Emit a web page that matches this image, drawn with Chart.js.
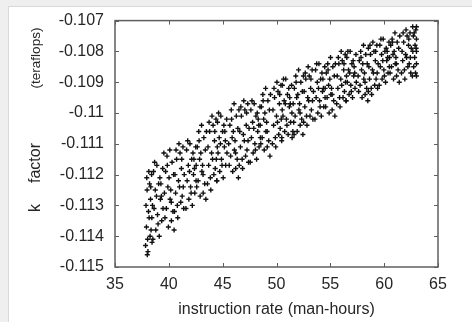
<!DOCTYPE html>
<html>
<head>
<meta charset="utf-8">
<script src="https://cdn.jsdelivr.net/npm/chart.js@4/dist/chart.umd.min.js"></script>
<style>
  html, body { margin: 0; padding: 0; }
  body { width: 472px; height: 322px; background: #efefef; position: relative; overflow: hidden; }
  #panel { position: absolute; left: 8px; top: 6px; width: 470px; height: 320px; background: #fff;
           border-left: 1px solid #d9d9d9; border-top: 1px solid #d9d9d9; }
  #wrap { position: absolute; left: 0; top: 0; width: 472px; height: 322px; }
</style>
</head>
<body>
<div id="panel"></div>
<div id="wrap"><canvas id="chart"></canvas></div>
<script>
// Axis ticks
const X_TICKS = [35, 40, 45, 50, 55, 60, 65];
const Y_TICKS = [-0.107, -0.108, -0.109, -0.11, -0.111, -0.112, -0.113, -0.114, -0.115];

// Scatter points [instruction rate, k factor]
const pointsLow = [
  [37.84,-0.1143],[38.06,-0.1145],[38.26,-0.1140],[38.44,-0.1142],[37.92,-0.1137],[38.17,-0.1134],[38.35,-0.1138],[37.88,-0.1130],
  [38.11,-0.1132],[38.30,-0.1128],[38.48,-0.1130],[37.98,-0.1125],[38.21,-0.1123],[38.40,-0.1120],[37.95,-0.1121],[38.14,-0.1119],
  [38.32,-0.1124],[38.03,-0.1141],[38.42,-0.1134],[38.00,-0.1146],
  [38.52,-0.1141],[38.79,-0.1138],[39.11,-0.1140],[39.34,-0.1135],[38.63,-0.1131],[38.95,-0.1133],[39.22,-0.1128],[39.46,-0.1131],
  [38.74,-0.1125],[39.05,-0.1123],[39.31,-0.1127],[38.58,-0.1119],[38.89,-0.1117],[39.17,-0.1121],[39.43,-0.1118],[38.68,-0.1116],
  [39.00,-0.1136],[39.26,-0.1123],[38.85,-0.1127],
  [39.64,-0.1134],[39.96,-0.1137],[40.24,-0.1135],[40.49,-0.1138],[39.77,-0.1131],[40.12,-0.1128],[40.38,-0.1132],[39.59,-0.1126],
  [39.91,-0.1124],[40.18,-0.1125],[40.44,-0.1120],[39.70,-0.1119],[40.02,-0.1121],[40.30,-0.1116],[39.83,-0.1114],[40.09,-0.1112],
  [39.54,-0.1113],[40.23,-0.1129],[39.86,-0.1117],
  [40.52,-0.1132],[40.83,-0.1134],[41.11,-0.1129],[41.38,-0.1131],[40.63,-0.1126],[40.99,-0.1124],[41.24,-0.1127],[40.57,-0.1120],
  [40.90,-0.1122],[41.17,-0.1118],[41.43,-0.1120],[40.72,-0.1115],[41.04,-0.1113],[41.31,-0.1111],[40.67,-0.1112],[40.94,-0.1110],
  [41.20,-0.1115],[40.79,-0.1130],[41.34,-0.1124],
  [41.59,-0.1131],[41.86,-0.1128],[42.18,-0.1130],[42.41,-0.1126],[41.70,-0.1122],[42.02,-0.1124],[42.29,-0.1120],[42.53,-0.1122],
  [41.81,-0.1117],[42.12,-0.1115],[42.38,-0.1118],[41.65,-0.1112],[41.96,-0.1110],[42.24,-0.1113],[42.50,-0.1111],[41.75,-0.1109],
  [42.07,-0.1126],[42.33,-0.1115],[41.92,-0.1119],
  [42.59,-0.1124],[42.91,-0.1127],[43.19,-0.1126],[43.44,-0.1128],[42.72,-0.1122],[43.07,-0.1119],[43.33,-0.1123],[42.54,-0.1117],
  [42.86,-0.1115],[43.13,-0.1117],[43.39,-0.1112],[42.65,-0.1111],[42.97,-0.1113],[43.25,-0.1108],[42.78,-0.1106],[43.04,-0.1104],
  [43.49,-0.1106],[43.18,-0.1120],[42.81,-0.1109],
  [43.59,-0.1123],[43.90,-0.1125],[44.18,-0.1120],[44.45,-0.1122],[43.70,-0.1117],[44.06,-0.1115],[44.31,-0.1118],[43.64,-0.1111],
  [43.97,-0.1113],[44.24,-0.1109],[44.50,-0.1111],[43.79,-0.1106],[44.11,-0.1104],[44.38,-0.1102],[43.74,-0.1103],[44.01,-0.1101],
  [44.27,-0.1106],[43.86,-0.1121],[44.41,-0.1115],
  [44.46,-0.1122],[44.73,-0.1119],[45.05,-0.1121],[45.28,-0.1117],[44.57,-0.1113],[44.89,-0.1115],[45.16,-0.1111],[45.40,-0.1113],
  [44.68,-0.1108],[44.99,-0.1106],[45.25,-0.1109],[44.52,-0.1103],[44.83,-0.1101],[45.11,-0.1104],[45.37,-0.1102],[44.62,-0.1100],
  [44.94,-0.1117],[45.20,-0.1106],[44.79,-0.1110],
  [45.61,-0.1117],[45.93,-0.1119],[46.21,-0.1118],[46.46,-0.1121],[45.74,-0.1114],[46.09,-0.1112],[46.35,-0.1115],[45.56,-0.1110],
  [45.88,-0.1108],[46.15,-0.1109],[46.41,-0.1105],[45.67,-0.1104],[45.99,-0.1106],[46.27,-0.1101],[45.80,-0.1099],[46.06,-0.1097],
  [46.51,-0.1099],[46.20,-0.1113],[45.83,-0.1102]
];

const pointsMid = [
  [46.54,-0.1117],[46.85,-0.1118],[47.13,-0.1114],[47.40,-0.1116],[46.65,-0.1111],[47.01,-0.1109],[47.26,-0.1112],[46.59,-0.1106],
  [46.92,-0.1107],[47.19,-0.1104],[47.45,-0.1105],[46.74,-0.1101],[47.06,-0.1099],[47.33,-0.1097],[46.69,-0.1098],[46.96,-0.1096],
  [47.22,-0.1100],[46.81,-0.1115],[47.36,-0.1109],
  [47.56,-0.1116],[47.83,-0.1113],[48.15,-0.1115],[48.38,-0.1111],[47.67,-0.1108],[47.99,-0.1110],[48.26,-0.1106],[48.50,-0.1108],
  [47.78,-0.1103],[48.09,-0.1101],[48.35,-0.1104],[47.62,-0.1099],[47.93,-0.1097],[48.21,-0.1100],[48.47,-0.1098],[47.72,-0.1096],
  [48.04,-0.1112],[48.30,-0.1102],[47.89,-0.1105],
  [48.54,-0.1110],[48.86,-0.1112],[49.14,-0.1111],[49.39,-0.1114],[48.67,-0.1108],[49.02,-0.1106],[49.28,-0.1109],[48.49,-0.1104],
  [48.81,-0.1102],[49.08,-0.1103],[49.34,-0.1099],[48.60,-0.1098],[48.92,-0.1100],[49.20,-0.1096],[48.73,-0.1094],[48.99,-0.1092],
  [49.44,-0.1094],[49.13,-0.1106],[48.76,-0.1096],
  [49.62,-0.1110],[49.93,-0.1111],[50.21,-0.1107],[50.48,-0.1109],[49.73,-0.1104],[50.09,-0.1103],[50.34,-0.1105],[49.67,-0.1099],
  [50.00,-0.1101],[50.27,-0.1097],[50.53,-0.1099],[49.82,-0.1095],[50.14,-0.1093],[50.41,-0.1091],[49.77,-0.1092],[50.04,-0.1090],
  [50.30,-0.1094],[49.89,-0.1108],[50.44,-0.1102],
  [50.49,-0.1108],[50.76,-0.1106],[51.08,-0.1107],[51.31,-0.1103],[50.60,-0.1101],[50.92,-0.1102],[51.19,-0.1098],[51.43,-0.1100],
  [50.71,-0.1096],[51.02,-0.1094],[51.28,-0.1097],[50.55,-0.1091],[50.86,-0.1089],[51.14,-0.1092],[51.40,-0.1091],[50.65,-0.1089],
  [50.97,-0.1104],[51.23,-0.1095],[50.82,-0.1097],[51.45,-0.1108],[51.52,-0.1106],
  [51.60,-0.1103],[51.92,-0.1106],[52.20,-0.1104],[52.45,-0.1107],[51.73,-0.1101],[52.08,-0.1099],[52.34,-0.1102],[51.55,-0.1097],
  [51.87,-0.1095],[52.14,-0.1097],[52.40,-0.1093],[51.66,-0.1092],[51.98,-0.1094],[52.26,-0.1090],[51.79,-0.1088],[52.05,-0.1086],
  [52.50,-0.1088],[52.19,-0.1100],[51.82,-0.1090],[51.63,-0.1107],
  [52.52,-0.1103],[52.83,-0.1104],[53.11,-0.1101],[53.38,-0.1102],[52.63,-0.1098],[52.99,-0.1096],[53.24,-0.1099],[52.57,-0.1093],
  [52.90,-0.1095],[53.17,-0.1092],[53.43,-0.1093],[52.72,-0.1089],[53.04,-0.1088],[53.31,-0.1086],[52.67,-0.1087],[52.94,-0.1085],
  [53.20,-0.1089],[52.79,-0.1101],[53.34,-0.1096],
  [53.57,-0.1102],[53.84,-0.1100],[54.16,-0.1101],[54.39,-0.1098],[53.68,-0.1095],[54.00,-0.1096],[54.27,-0.1093],[54.51,-0.1095],
  [53.79,-0.1090],[54.10,-0.1089],[54.36,-0.1092],[53.63,-0.1086],[53.94,-0.1084],[54.22,-0.1087],[54.48,-0.1085],[53.73,-0.1084],
  [54.05,-0.1098],[54.31,-0.1089],[53.90,-0.1092],
  [54.57,-0.1098],[54.89,-0.1100],[55.17,-0.1099],[55.42,-0.1101],[54.70,-0.1095],[55.05,-0.1094],[55.31,-0.1096],[54.52,-0.1092],
  [54.84,-0.1091],[55.11,-0.1092],[55.37,-0.1088],[54.63,-0.1087],[54.95,-0.1089],[55.23,-0.1085],[54.76,-0.1084],[55.02,-0.1082],
  [55.47,-0.1084],[55.16,-0.1094],[54.79,-0.1086]
];

const pointsHigh = [
  [55.59,-0.1097],[55.90,-0.1098],[56.18,-0.1095],[56.45,-0.1096],[55.70,-0.1092],[56.06,-0.1091],[56.31,-0.1093],[55.64,-0.1088],
  [55.97,-0.1089],[56.24,-0.1086],[56.50,-0.1088],[55.79,-0.1084],[56.11,-0.1083],[56.38,-0.1081],[55.74,-0.1082],[56.01,-0.1080],
  [56.27,-0.1084],[55.86,-0.1095],[56.41,-0.1090],
  [56.47,-0.1096],[56.74,-0.1094],[57.06,-0.1095],[57.29,-0.1092],[56.58,-0.1090],[56.90,-0.1091],[57.17,-0.1088],[57.41,-0.1090],
  [56.69,-0.1086],[57.00,-0.1084],[57.26,-0.1087],[56.53,-0.1082],[56.84,-0.1080],[57.12,-0.1083],[57.38,-0.1081],[56.63,-0.1080],
  [56.95,-0.1093],[57.21,-0.1085],[56.80,-0.1087],
  [57.63,-0.1093],[57.95,-0.1095],[58.23,-0.1094],[58.48,-0.1096],[57.76,-0.1091],[58.11,-0.1089],[58.37,-0.1092],[57.58,-0.1088],
  [57.90,-0.1086],[58.17,-0.1087],[58.43,-0.1084],[57.69,-0.1083],[58.01,-0.1084],[58.29,-0.1081],[57.82,-0.1080],[58.08,-0.1078],
  [58.53,-0.1079],[58.22,-0.1090],[57.85,-0.1082],
  [58.53,-0.1093],[58.84,-0.1094],[59.12,-0.1091],[59.39,-0.1092],[58.64,-0.1089],[59.00,-0.1087],[59.25,-0.1089],[58.58,-0.1085],
  [58.91,-0.1086],[59.18,-0.1083],[59.44,-0.1084],[58.73,-0.1081],[59.05,-0.1080],[59.32,-0.1078],[58.68,-0.1078],[58.95,-0.1077],
  [59.21,-0.1080],[58.80,-0.1092],[59.35,-0.1087],
  [59.54,-0.1091],[59.81,-0.1089],[60.13,-0.1090],[60.36,-0.1087],[59.65,-0.1085],[59.97,-0.1086],[60.24,-0.1083],[60.48,-0.1085],
  [59.76,-0.1081],[60.07,-0.1080],[60.33,-0.1082],[59.60,-0.1078],[59.91,-0.1076],[60.19,-0.1079],[60.45,-0.1077],[59.70,-0.1076],
  [60.02,-0.1088],[60.28,-0.1080],[59.87,-0.1083],
  [60.55,-0.1087],[60.87,-0.1089],[61.15,-0.1088],[61.40,-0.1090],[60.68,-0.1085],[61.03,-0.1084],[61.29,-0.1086],[60.50,-0.1082],
  [60.82,-0.1081],[61.09,-0.1082],[61.35,-0.1079],[60.61,-0.1078],[60.93,-0.1080],[61.21,-0.1077],[60.74,-0.1076],[61.00,-0.1074],
  [61.45,-0.1075],[61.14,-0.1084],[60.77,-0.1077],
  [61.61,-0.1087],[61.92,-0.1089],[62.20,-0.1085],[62.47,-0.1087],[61.72,-0.1083],[62.08,-0.1082],[62.33,-0.1084],[61.66,-0.1080],
  [61.99,-0.1081],[62.26,-0.1078],[62.52,-0.1079],[61.81,-0.1077],[62.13,-0.1075],[62.40,-0.1074],[61.76,-0.1074],[62.03,-0.1073],
  [62.29,-0.1076],[61.88,-0.1086],[62.43,-0.1082],
  [62.62,-0.1088],[62.91,-0.1087],[63.00,-0.1088],[62.74,-0.1085],[63.00,-0.1084],[62.83,-0.1082],[62.66,-0.1080],[63.00,-0.1080],
  [62.87,-0.1078],[63.00,-0.1076],[62.71,-0.1075],[62.94,-0.1073],[62.65,-0.1072],[63.00,-0.1072],[62.79,-0.1074],[62.97,-0.1079]
];

const allPoints = pointsLow.concat(pointsMid, pointsHigh).map(p => ({ x: p[0], y: p[1] }));

const FONT = 'Liberation Sans, Arial, sans-serif';
const TEXT = '#262626';
const FRAME = '#5f5f5f';

// frame + inward ticks on all four sides, and the rotated y label
const framePlugin = {
  id: 'frame',
  afterDraw(chart) {
    const { ctx, chartArea: a, scales } = chart;
    const len = 4;
    ctx.save();
    ctx.strokeStyle = FRAME;
    ctx.lineWidth = 1.5;
    ctx.strokeRect(a.left, a.top, a.right - a.left, a.bottom - a.top);
    ctx.lineWidth = 1;
    ctx.beginPath();
    X_TICKS.forEach(v => {
      const px = Math.round(scales.x.getPixelForValue(v)) + 0.5;
      ctx.moveTo(px, a.bottom); ctx.lineTo(px, a.bottom - len);
      ctx.moveTo(px, a.top); ctx.lineTo(px, a.top + len);
    });
    Y_TICKS.forEach(v => {
      const py = Math.round(scales.y.getPixelForValue(v)) + 0.5;
      ctx.moveTo(a.left, py); ctx.lineTo(a.left + len, py);
      ctx.moveTo(a.right, py); ctx.lineTo(a.right - len, py);
    });
    ctx.stroke();

    // y title: "k  factor  (teraflops)"
    ctx.fillStyle = TEXT;
    ctx.textAlign = 'center';
    ctx.textBaseline = 'middle';
    const parts = [['k', 208, 16], ['factor', 163, 16], ['(teraflops)', 58, 13.5]];
    parts.forEach(([t, y, size]) => {
      ctx.save();
      ctx.translate(36, y);
      ctx.rotate(-Math.PI / 2);
      ctx.font = size + 'px ' + FONT;
      ctx.fillText(t, 0, 0);
      ctx.restore();
    });
    ctx.restore();
  }
};

new Chart(document.getElementById('chart'), {
  type: 'scatter',
  data: {
    datasets: [{
      data: allPoints,
      pointStyle: 'cross',
      pointRadius: 2.5,
      borderColor: '#111',
      backgroundColor: '#111',
      borderWidth: 1.4,
    }]
  },
  options: {
    responsive: true,
    maintainAspectRatio: false,
    animation: false,
    layout: { padding: { left: 0, top: 20, right: 34, bottom: 0 } },
    plugins: { legend: { display: false }, tooltip: { enabled: false } },
    scales: {
      x: {
        type: 'linear',
        min: 35, max: 65,
        afterBuildTicks: s => { s.ticks = X_TICKS.map(v => ({ value: v })); },
        afterFit: s => { s.height = 55; },
        grid: { display: false, drawTicks: false },
        border: { display: false },
        ticks: { color: TEXT, padding: 8, font: { family: FONT, size: 16 } },
        title: {
          display: true,
          text: 'instruction rate (man-hours)',
          color: TEXT,
          font: { family: FONT, size: 16 },
          padding: { top: 0, bottom: 3 },
        },
      },
      y: {
        type: 'linear',
        min: -0.115, max: -0.107,
        afterBuildTicks: s => { s.ticks = Y_TICKS.map(v => ({ value: v })); },
        afterFit: s => { s.width = 115; },
        grid: { display: false, drawTicks: false },
        border: { display: false },
        ticks: { color: TEXT, padding: 11, font: { family: FONT, size: 16 }, callback: v => String(v) },
      },
    },
  },
  plugins: [framePlugin],
});
</script>
</body>
</html>
